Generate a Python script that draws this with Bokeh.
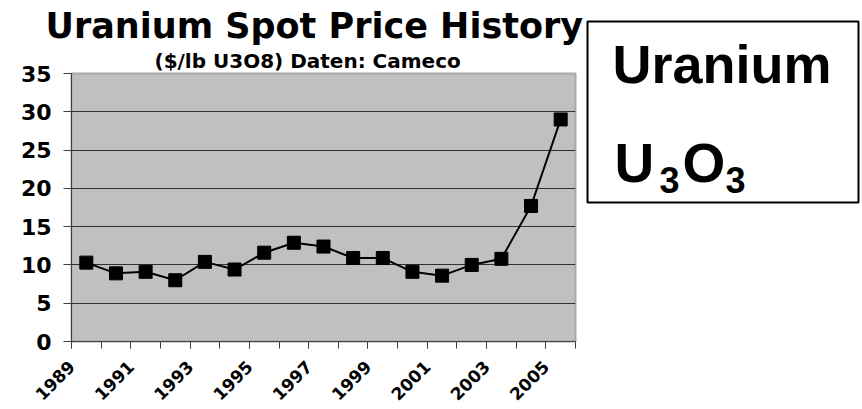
from math import pi
from bokeh.plotting import figure
from bokeh.models import Range1d, FixedTicker, Label, ColumnDataSource, Title
from bokeh.layouts import row
from bokeh.embed import file_html
from bokeh.resources import INLINE

# ---- data ----
years = list(range(1989, 2006))
price = [10.3, 8.9, 9.1, 8.0, 10.4, 9.4, 11.6, 12.9, 12.4, 10.9, 10.9,
         9.1, 8.6, 10.0, 10.8, 17.7, 29.0]
y_ticks = [0, 5, 10, 15, 20, 25, 30, 35]
x_label_years = years[::2]
title_text = "Uranium Spot Price History"
subtitle_text = "($/lb U3O8)  Daten: Cameco"
box_word = "Uranium"
formula_parts = ["U", "3", "O", "3"]

FONT = "DejaVu Sans"
src = ColumnDataSource(dict(year=years, price=price))

p = figure(width=585, height=409, output_backend="svg", toolbar_location=None,
           x_range=Range1d(years[0] - 0.5, years[-1] + 0.5),
           y_range=Range1d(y_ticks[0], y_ticks[-1]),
           min_border_left=71, min_border_right=10,
           min_border_top=73, min_border_bottom=67)
p.frame_align = False
p.background_fill_color = "#c0c0c0"
p.border_fill_color = "white"
p.outline_line_color = "#a8a8a8"
p.outline_line_width = 2

# titles (first added sits nearest the plot)
p.add_layout(Title(text=subtitle_text, align="left", offset=83, standoff=1,
                   text_font=FONT, text_font_style="bold",
                   text_font_size="20px", text_color="black"), "above")
p.add_layout(Title(text=title_text, align="left", offset=-26, standoff=2,
                   text_font=FONT, text_font_style="bold",
                   text_font_size="35px", text_color="black"), "above")

# x axis: category boundary ticks; year labels sit at the boundary before each odd year
boundaries = [y - 0.5 for y in years] + [years[-1] + 0.5]
label_pos = [y - 0.5 for y in x_label_years]
xa = p.xaxis[0]
xa.ticker = FixedTicker(ticks=label_pos, minor_ticks=boundaries)
xa.major_label_overrides = {pos: str(y) for pos, y in zip(label_pos, x_label_years)}
xa.major_tick_out = 7
xa.major_tick_in = 0
xa.minor_tick_out = 7
xa.minor_tick_in = 0
xa.major_tick_line_color = "#404040"
xa.minor_tick_line_color = "#404040"
xa.axis_line_color = "#404040"
xa.major_label_orientation = pi / 4
xa.major_label_standoff = 15
xa.major_label_text_font = FONT
xa.major_label_text_font_style = "bold"
xa.major_label_text_font_size = "17px"
xa.major_label_text_color = "black"

ya = p.yaxis[0]
ya.ticker = FixedTicker(ticks=y_ticks)
ya.major_tick_out = 8
ya.major_tick_in = 0
ya.minor_tick_out = 0
ya.minor_tick_in = 0
ya.major_tick_line_color = "#404040"
ya.axis_line_color = "#404040"
ya.major_label_standoff = 12
ya.major_label_text_font = FONT
ya.major_label_text_font_style = "bold"
ya.major_label_text_font_size = "22px"
ya.major_label_text_color = "black"

p.xgrid.visible = False
p.ygrid.ticker = FixedTicker(ticks=y_ticks[1:-1])
p.ygrid.grid_line_color = "#303030"
p.ygrid.grid_line_width = 1

p.line("year", "price", source=src, line_color="black", line_width=2)
p.scatter("year", "price", source=src, marker="square", size=13,
          fill_color="black", line_color="black")

# ---- right box ----
q = figure(width=276, height=409, output_backend="svg", toolbar_location=None,
           x_range=Range1d(0, 271), y_range=Range1d(0, 181),
           x_axis_location=None, y_axis_location=None,
           min_border_left=2, min_border_right=3,
           min_border_top=21, min_border_bottom=207)
q.frame_align = False
q.grid.visible = False
q.background_fill_color = "white"
q.border_fill_color = "white"
q.outline_line_color = "black"
q.outline_line_width = 2

BFONT = "Liberation Sans"
q.add_layout(Label(x=25, y=139, text=box_word, text_baseline="middle",
                   text_font=BFONT, text_font_style="bold",
                   text_font_size="54px", text_color="black"))
for txt, xx, yy, fs in zip(formula_parts, [27, 72, 95, 138], [40, 23, 40, 23],
                           ["55px", "36px", "55px", "36px"]):
    q.add_layout(Label(x=xx, y=yy, text=txt, text_baseline="middle",
                       text_font=BFONT, text_font_style="bold",
                       text_font_size=fs, text_color="black"))

layout = row(p, q)
open("out.html", "w").write(file_html(layout, INLINE))
